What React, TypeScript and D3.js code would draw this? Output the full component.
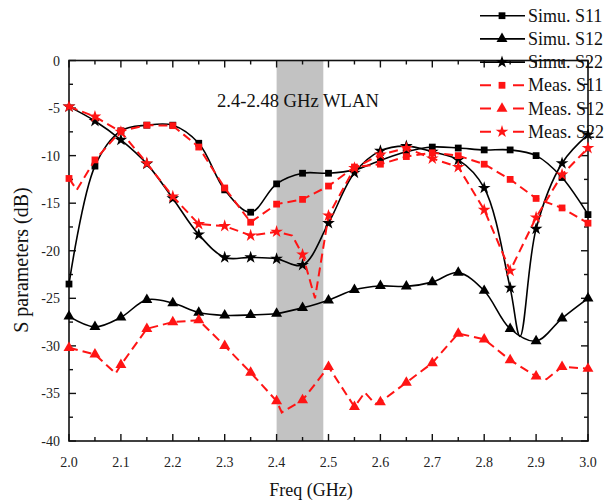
import React from "react";
import * as d3 from "d3";

const W = 616;
const H = 504;

// Marker frequencies (GHz)
const FREQ = [2.0, 2.05, 2.1, 2.15, 2.2, 2.25, 2.3, 2.35, 2.4, 2.45, 2.5, 2.55, 2.6, 2.65, 2.7, 2.75, 2.8, 2.85, 2.9, 2.95, 3.0];

// S parameters (dB) at the marker frequencies
const SIMU_S11 = [-23.5, -11.1, -7.4, -6.8, -6.8, -8.7, -13.6, -15.95, -12.97, -11.85, -11.85, -11.5, -10.5, -9.6, -9.1, -9.2, -9.4, -9.4, -10.0, -12.3, -16.2];
const SIMU_S12 = [-26.9, -28.0, -27.0, -25.15, -25.5, -26.5, -26.8, -26.75, -26.6, -26.0, -25.2, -24.1, -23.7, -23.75, -23.3, -22.3, -24.2, -28.2, -29.5, -27.1, -25.0];
const SIMU_S22 = [-4.85, -6.36, -8.35, -10.87, -14.5, -18.3, -20.7, -20.7, -20.85, -21.5, -17.1, -11.8, -9.5, -9.0, -9.6, -10.45, -13.4, -23.9, -17.7, -10.8, -7.8];
const MEAS_S11 = [-12.4, -10.45, -7.4, -6.8, -6.85, -9.1, -13.4, -17.0, -15.1, -14.6, -13.2, -11.2, -10.9, -10.1, -9.7, -10.0, -10.9, -12.5, -14.5, -15.5, -17.1];
const MEAS_S12 = [-30.2, -30.9, -32.0, -28.2, -27.5, -27.3, -30.0, -32.8, -35.8, -35.7, -32.2, -36.4, -35.9, -33.85, -31.8, -28.7, -29.3, -31.5, -33.2, -32.2, -32.4];
const MEAS_S22 = [-4.85, -5.9, -7.5, -10.8, -14.3, -17.2, -17.4, -18.4, -18.0, -20.4, -16.3, -11.3, -9.9, -9.2, -10.3, -11.2, -15.7, -22.1, -16.5, -12.0, -9.2];

// Samples between markers (frequency GHz, dB), no marker drawn
const SIMU_S22_EXTRA: [number, number][] = [[2.869, -29.0]];
const MEAS_S11_EXTRA: [number, number][] = [[2.015, -13.6]];
const MEAS_S12_EXTRA: [number, number][] = [[2.09, -32.9], [2.41, -37.0], [2.57, -34.9], [2.59, -36.1], [2.92, -33.5]];
const MEAS_S22_EXTRA: [number, number][] = [[2.43, -18.4], [2.474, -25.0]];

const X_TICKS = ["2.0", "2.1", "2.2", "2.3", "2.4", "2.5", "2.6", "2.7", "2.8", "2.9", "3.0"];
const Y_TICKS = [0, -5, -10, -15, -20, -25, -30, -35, -40];

const WLAN_BAND = [2.4, 2.49];
const WLAN_LABEL = "2.4-2.48 GHz WLAN";

type Series = {
  name: string;
  values: number[];
  extra: [number, number][];
  color: string;
  dashed: boolean;
  marker: "square" | "triangle" | "star";
};

const SERIES: Series[] = [
  { name: "Simu. S11", values: SIMU_S11, extra: [], color: "#000", dashed: false, marker: "square" },
  { name: "Simu. S12", values: SIMU_S12, extra: [], color: "#000", dashed: false, marker: "triangle" },
  { name: "Simu. S22", values: SIMU_S22, extra: SIMU_S22_EXTRA, color: "#000", dashed: false, marker: "star" },
  { name: "Meas. S11", values: MEAS_S11, extra: MEAS_S11_EXTRA, color: "#ff1414", dashed: true, marker: "square" },
  { name: "Meas. S12", values: MEAS_S12, extra: MEAS_S12_EXTRA, color: "#ff1414", dashed: true, marker: "triangle" },
  { name: "Meas. S22", values: MEAS_S22, extra: MEAS_S22_EXTRA, color: "#ff1414", dashed: true, marker: "star" },
];

const FONT = "'Liberation Serif', 'Times New Roman', serif";

const plot = { left: 69, right: 588, top: 60.5, bottom: 441 };

const x = d3.scaleLinear().domain([2, 3]).range([plot.left, plot.right]);
const y = d3.scaleLinear().domain([-40, 0]).range([plot.bottom, plot.top]);

const symbolPath = (m: Series["marker"]) => {
  if (m === "square") return d3.symbol(d3.symbolSquare, 46)()!;
  if (m === "triangle") return d3.symbol(d3.symbolTriangle, 52)()!;
  return d3.symbol(d3.symbolStar, 50)()!;
};

const smoothLine = d3
  .line<[number, number]>()
  .x((d) => x(d[0]))
  .y((d) => y(d[1]))
  .curve(d3.curveCatmullRom.alpha(0.5));

const straightLine = d3
  .line<[number, number]>()
  .x((d) => x(d[0]))
  .y((d) => y(d[1]));

function linePoints(s: Series): [number, number][] {
  const pts: [number, number][] = FREQ.map((f, i) => [f, s.values[i]]);
  return pts.concat(s.extra).sort((a, b) => a[0] - b[0]);
}

export default function App() {
  const xMajor = d3.range(0, 11).map((i) => 2 + i * 0.1);
  const xMinor = d3.range(0, 10).map((i) => 2.05 + i * 0.1);
  const yMajor = Y_TICKS;
  const yMinor = d3.range(0, 8).map((i) => -2.5 - i * 5);
  const majLen = 7;
  const minLen = 4;
  const axisColor = "#111";

  const legendRowY = (i: number) => 15.7 + i * 23.2;

  return (
    <svg
      width={W}
      height={H}
      viewBox={`0 0 ${W} ${H}`}
      style={{ position: "fixed", left: 0, top: 0, background: "#fff" }}
      fontFamily={FONT}
    >
      <rect x={0} y={0} width={W} height={H} fill="#fff" />

      {/* WLAN band */}
      <rect
        x={x(WLAN_BAND[0])}
        y={plot.top}
        width={x(WLAN_BAND[1]) - x(WLAN_BAND[0])}
        height={plot.bottom - plot.top}
        fill="#c2c2c2"
      />
      <text x={217} y={107} fontSize={18.6} fill="#111">
        {WLAN_LABEL}
      </text>

      {/* frame */}
      <rect
        x={plot.left}
        y={plot.top}
        width={plot.right - plot.left}
        height={plot.bottom - plot.top}
        fill="none"
        stroke={axisColor}
        strokeWidth={1.6}
      />
      {/* x ticks on bottom and top, pointing inward */}
      {xMajor.map((v) => (
        <g key={"xM" + v}>
          <line x1={x(v)} x2={x(v)} y1={plot.bottom} y2={plot.bottom - majLen} stroke={axisColor} strokeWidth={1.4} />
          <line x1={x(v)} x2={x(v)} y1={plot.top} y2={plot.top + majLen} stroke={axisColor} strokeWidth={1.4} />
        </g>
      ))}
      {xMinor.map((v) => (
        <g key={"xm" + v}>
          <line x1={x(v)} x2={x(v)} y1={plot.bottom} y2={plot.bottom - minLen} stroke={axisColor} strokeWidth={1.4} />
          <line x1={x(v)} x2={x(v)} y1={plot.top} y2={plot.top + minLen} stroke={axisColor} strokeWidth={1.4} />
        </g>
      ))}
      {/* y ticks on left and right, pointing inward */}
      {yMajor.map((v) => (
        <g key={"yM" + v}>
          <line x1={plot.left} x2={plot.left + majLen} y1={y(v)} y2={y(v)} stroke={axisColor} strokeWidth={1.4} />
          <line x1={plot.right} x2={plot.right - majLen} y1={y(v)} y2={y(v)} stroke={axisColor} strokeWidth={1.4} />
        </g>
      ))}
      {yMinor.map((v) => (
        <g key={"ym" + v}>
          <line x1={plot.left} x2={plot.left + minLen} y1={y(v)} y2={y(v)} stroke={axisColor} strokeWidth={1.4} />
          <line x1={plot.right} x2={plot.right - minLen} y1={y(v)} y2={y(v)} stroke={axisColor} strokeWidth={1.4} />
        </g>
      ))}

      {/* tick labels */}
      {X_TICKS.map((t) => (
        <text key={"xl" + t} x={x(+t)} y={467} fontSize={14} textAnchor="middle" fill="#222">
          {t}
        </text>
      ))}
      {Y_TICKS.map((t) => (
        <text key={"yl" + t} x={60} y={y(t) + 5} fontSize={14} textAnchor="end" fill="#222">
          {t}
        </text>
      ))}

      {/* axis titles */}
      <text x={311} y={496} fontSize={18} textAnchor="middle" fill="#111">
        Freq (GHz)
      </text>
      <text
        transform={`translate(28,260) rotate(-90)`}
        fontSize={20}
        textAnchor="middle"
        fill="#111"
      >
        S parameters (dB)
      </text>

      {/* curves */}
      {SERIES.map((s) => {
        const pts = linePoints(s);
        const d = s.dashed ? straightLine(pts) : smoothLine(pts);
        const sym = symbolPath(s.marker);
        return (
          <g key={s.name}>
            <path
              d={d || ""}
              fill="none"
              stroke={s.color}
              strokeWidth={s.dashed ? 2 : 1.6}
              strokeDasharray={s.dashed ? "9,5" : undefined}
            />
            {FREQ.map((f, i) => (
              <path
                key={i}
                d={sym}
                transform={`translate(${x(f)},${y(s.values[i])})`}
                fill={s.color}
              />
            ))}
          </g>
        );
      })}

      {/* legend */}
      {SERIES.map((s, i) => {
        const cy = legendRowY(i);
        return (
          <g key={"lg" + s.name}>
            <line
              x1={480}
              x2={525}
              y1={cy}
              y2={cy}
              stroke={s.color}
              strokeWidth={s.dashed ? 2 : 1.6}
              strokeDasharray={s.dashed ? "11,22" : undefined}
            />
            <path d={symbolPath(s.marker)} transform={`translate(502,${cy})`} fill={s.color} />
            <text x={528} y={cy + 6} fontSize={18} fill="#111">
              {s.name}
            </text>
          </g>
        );
      })}
    </svg>
  );
}
